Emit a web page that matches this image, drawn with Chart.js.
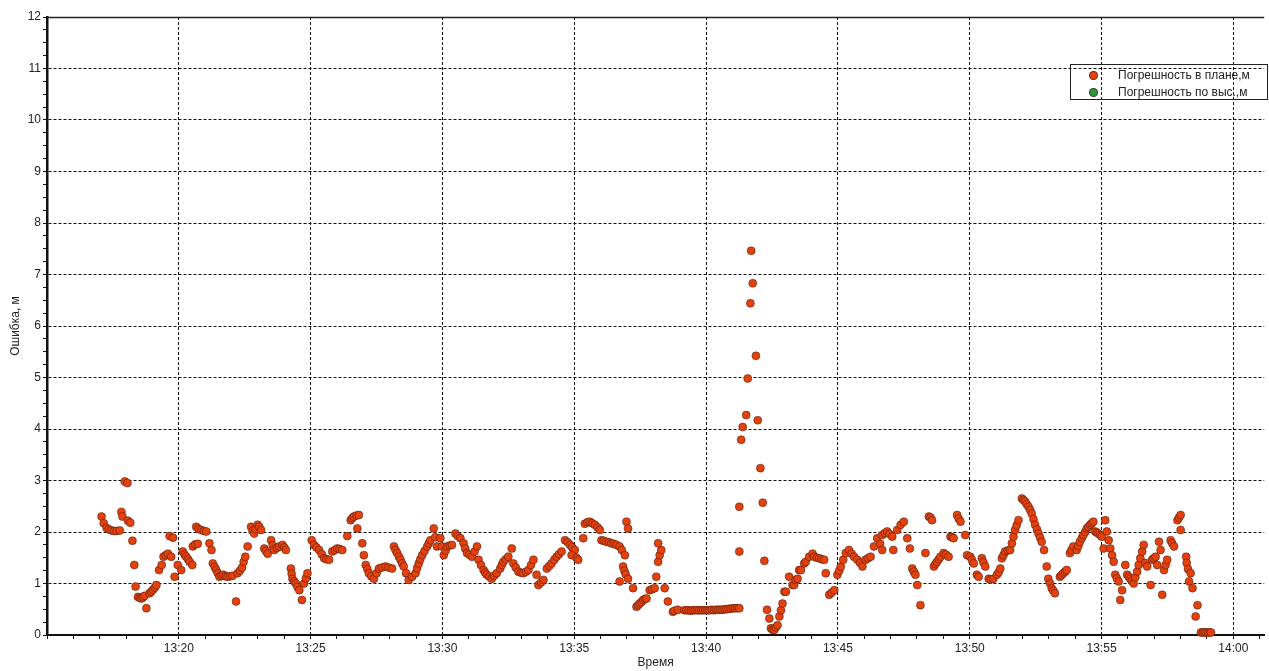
<!DOCTYPE html>
<html>
<head>
<meta charset="utf-8">
<script src="https://cdn.jsdelivr.net/npm/chart.js@4.4.1/dist/chart.umd.min.js"></script>
<style>
  html, body { margin: 0; padding: 0; background: #fff; }
  #wrap { position: relative; width: 1269px; height: 671px; }
  #legend {
    position: absolute; left: 1070px; top: 64px; width: 196px; height: 34px;
    border: 1px solid #222; font: 12px "Liberation Sans", Arial, sans-serif; color: #222;
  }
  #legend .row { position: absolute; left: 0; height: 16px; line-height: 16px; white-space: nowrap; }
  #legend .dot {
    position: absolute; left: 18px; top: 4px; width: 7px; height: 7px; border-radius: 50%;
    border: 1px solid rgba(60,20,10,0.7);
  }
  #legend .txt { position: absolute; left: 47px; top: 0; }
</style>
</head>
<body>
<div id="wrap">
  <canvas id="chart" width="1269" height="671"></canvas>
  <div id="legend"></div>
</div>
<script>
// time = minutes after 13:00, error in metres
const planTime = [
  17.07,17.15,17.26,17.35,17.45,17.55,17.64,17.76,17.82,17.86,17.95,18.05,18.07,18.16,18.24,18.31,18.36,18.45,18.52,18.58,
  18.64,18.70,18.77,18.89,18.95,19.02,19.09,19.15,19.25,19.35,19.42,19.50,19.59,19.71,19.65,19.78,19.84,19.96,20.09,20.15,
  20.22,20.28,20.35,20.41,20.51,20.53,20.62,20.72,20.66,20.75,20.85,20.95,21.04,21.16,21.24,21.29,21.36,21.42,21.48,21.54,
  21.62,21.69,21.77,21.85,21.95,22.04,22.17,22.23,22.32,22.40,22.46,22.52,22.61,22.74,22.80,22.86,22.92,22.99,23.05,23.12,
  23.24,23.30,23.37,23.50,23.56,23.62,23.72,23.81,23.93,24.00,24.06,24.25,24.28,24.31,24.38,24.44,24.50,24.57,24.67,24.75,
  24.82,24.88,25.04,25.13,
  25.22,25.32,25.42,25.51,25.60,25.70,25.82,25.92,26.01,26.10,26.20,26.39,26.52,26.58,26.64,26.74,26.83,26.77,26.96,27.02,
  27.09,27.15,27.21,27.30,27.40,27.50,27.59,27.70,27.84,27.96,28.09,28.16,28.22,28.28,28.35,28.41,28.47,28.53,28.62,28.72,
  28.85,28.98,29.04,29.10,29.16,29.23,29.32,29.42,29.48,29.54,29.67,29.73,29.79,29.92,29.98,30.05,30.12,30.18,30.28,30.36,
  30.49,30.58,30.68,30.80,30.86,30.93,31.02,31.12,31.22,31.31,31.37,31.46,31.56,31.62,31.68,31.78,31.87,31.96,32.06,32.19,
  32.25,32.31,32.40,32.50,32.63,32.69,32.78,32.88,32.98,33.07,33.17,33.26,33.36,33.45,33.57,33.64,33.74,33.83,33.96,34.05,
  34.14,34.24,34.33,34.42,34.52,34.65,34.75,34.84,34.92,35.02,34.90,35.08,35.15,
  35.34,35.40,35.50,35.59,35.68,35.78,35.88,35.97,36.03,36.12,36.22,36.32,36.41,36.50,36.60,36.72,36.80,36.92,36.98,37.04,
  36.85,36.90,36.95,37.04,36.72,37.23,37.36,37.42,37.48,37.55,37.61,37.68,37.74,37.86,37.95,38.05,38.11,38.18,38.24,38.30,
  38.18,38.43,38.55,38.74,38.80,38.93,
  39.18,39.26,39.34,39.42,39.50,39.58,39.66,39.74,39.82,39.90,39.98,40.06,40.14,40.22,40.30,40.38,40.46,40.54,40.62,40.70,
  40.78,40.86,40.94,41.02,41.10,41.18,41.26,
  41.26,41.26,41.33,41.39,41.52,41.58,41.68,41.77,41.71,41.89,41.96,42.06,42.15,42.21,42.31,42.40,42.46,42.52,42.59,42.65,
  42.71,42.78,42.84,42.90,42.97,43.03,43.15,43.28,43.34,43.40,43.47,43.53,43.60,43.72,43.78,43.91,44.04,44.10,44.20,44.29,
  44.38,44.48,44.54,44.67,44.76,44.86,44.98,45.05,45.11,45.20,45.30,45.42,45.52,45.61,45.74,45.84,45.93,46.05,46.14,46.24,
  46.37,46.49,46.60,46.68,46.68,46.78,46.87,46.96,47.06,47.10,47.25,47.38,47.50,47.63,47.73,47.82,47.88,47.94,48.01,48.13,
  48.32,48.45,48.51,48.57,48.64,48.70,48.76,48.83,48.89,49.01,49.10,49.20,49.27,49.33,49.39,49.52,49.58,49.65,49.83,49.90,
  50.02,50.08,50.15,50.27,50.34,50.46,50.52,50.59,50.72,50.80,50.90,51.03,51.10,51.16,51.22,51.28,51.34,51.44,51.53,51.60,
  51.66,51.72,51.78,51.85,51.98,52.04,52.10,52.16,52.23,52.29,52.35,52.42,52.48,52.55,52.61,52.67,52.73,52.82,52.92,52.98,
  53.05,53.11,53.17,53.23,53.42,53.48,53.55,53.62,53.68,53.80,53.86,53.93,54.06,54.12,54.18,54.25,54.31,54.38,54.44,54.50,
  54.57,54.63,54.69,54.76,54.82,54.88,54.95,55.01,55.08,55.14,55.20,55.27,55.33,55.40,55.46,55.52,55.58,55.65,55.71,55.78,
  55.90,55.97,56.03,56.09,56.15,56.22,56.28,56.35,56.41,56.47,56.54,56.60,56.66,56.73,56.86,56.92,56.98,57.05,57.11,57.18,
  57.24,57.30,57.37,57.43,57.49,57.62,57.68,57.75,57.88,57.94,58.00,58.00,58.21,58.23,58.28,58.32,58.38,58.45,58.57,58.64,
  58.77,58.84,58.90,58.96,59.04,59.10,59.15
];
const planError = [
  2.30,2.17,2.08,2.05,2.03,2.02,2.02,2.03,2.39,2.30,2.98,2.95,2.22,2.18,1.83,1.36,0.94,0.74,0.72,0.71,
  0.73,0.76,0.52,0.81,0.84,0.88,0.92,0.97,1.26,1.36,1.52,1.55,1.58,1.52,1.92,1.89,1.13,1.36,1.26,1.62,
  1.56,1.52,1.47,1.42,1.36,1.72,1.76,1.77,2.10,2.06,2.04,2.02,2.01,1.78,1.65,1.39,1.32,1.26,1.20,1.13,
  1.15,1.17,1.14,1.13,1.14,1.15,0.65,1.20,1.25,1.31,1.42,1.52,1.72,2.10,2.02,1.97,2.06,2.14,2.10,2.04,
  1.68,1.63,1.58,1.84,1.74,1.65,1.69,1.72,1.75,1.70,1.65,1.29,1.19,1.09,1.04,1.00,0.93,0.87,0.68,1.00,
  1.10,1.20,1.84,1.75,
  1.70,1.65,1.57,1.49,1.47,1.46,1.62,1.65,1.68,1.67,1.65,1.92,2.23,2.27,2.30,2.32,2.33,2.07,1.78,1.55,
  1.36,1.28,1.20,1.14,1.09,1.20,1.29,1.31,1.33,1.31,1.29,1.72,1.65,1.59,1.52,1.46,1.39,1.33,1.20,1.07,
  1.13,1.20,1.30,1.39,1.47,1.55,1.63,1.72,1.78,1.84,2.07,1.90,1.72,1.88,1.72,1.55,1.64,1.72,1.74,1.75,
  1.97,1.92,1.88,1.78,1.68,1.59,1.56,1.52,1.62,1.72,1.46,1.36,1.26,1.21,1.17,1.13,1.09,1.15,1.20,1.29,
  1.36,1.42,1.47,1.52,1.68,1.39,1.31,1.23,1.21,1.20,1.23,1.26,1.36,1.46,1.17,0.97,1.02,1.07,1.29,1.34,
  1.39,1.46,1.52,1.57,1.62,1.84,1.80,1.75,1.70,1.65,1.55,1.50,1.46,
  1.88,2.16,2.19,2.20,2.17,2.14,2.09,2.04,1.84,1.83,1.81,1.80,1.78,1.77,1.75,1.72,1.65,1.55,2.20,2.07,
  1.33,1.25,1.18,1.09,1.04,0.91,0.55,0.58,0.61,0.64,0.68,0.70,0.71,0.87,0.89,0.91,1.13,1.42,1.55,1.65,
  1.78,0.91,0.65,0.45,0.47,0.49,
  0.48,0.48,0.48,0.47,0.48,0.48,0.48,0.48,0.48,0.48,0.48,0.48,0.48,0.49,0.48,0.49,0.49,0.49,0.49,0.50,
  0.50,0.51,0.51,0.52,0.52,0.52,0.52,
  1.62,2.49,3.79,4.04,4.27,4.98,6.44,6.83,7.46,5.42,4.17,3.24,2.57,1.44,0.49,0.32,0.13,0.10,0.10,0.15,
  0.19,0.36,0.48,0.61,0.84,0.84,1.13,0.97,0.97,1.07,1.09,1.26,1.26,1.39,1.42,1.52,1.58,1.52,1.50,1.49,
  1.47,1.46,1.20,0.78,0.82,0.87,1.17,1.25,1.33,1.46,1.59,1.65,1.58,1.52,1.46,1.40,1.33,1.46,1.49,1.52,
  1.72,1.88,1.77,1.65,1.94,1.98,2.01,1.96,1.91,1.65,2.04,2.14,2.20,1.88,1.68,1.29,1.23,1.17,0.97,0.58,
  1.59,2.30,2.28,2.23,1.33,1.38,1.42,1.47,1.52,1.59,1.56,1.52,1.91,1.90,1.88,2.33,2.26,2.20,1.94,1.55,
  1.52,1.46,1.39,1.17,1.13,1.49,1.41,1.33,1.09,1.08,1.09,1.17,1.22,1.29,1.49,1.55,1.62,1.64,1.65,1.78,
  1.91,2.04,2.13,2.23,2.65,2.62,2.59,2.54,2.49,2.43,2.36,2.25,2.14,2.05,1.97,1.89,1.81,1.65,1.33,1.09,
  1.00,0.91,0.86,0.81,1.13,1.16,1.20,1.23,1.26,1.59,1.65,1.72,1.65,1.73,1.81,1.88,1.94,2.00,2.07,2.10,
  2.14,2.17,2.20,2.01,1.99,1.97,1.94,1.91,1.68,2.23,2.01,1.84,1.68,1.55,1.42,1.17,1.10,1.04,0.68,0.87,
  1.36,1.17,1.13,1.09,1.05,1.00,1.12,1.23,1.36,1.49,1.62,1.75,1.40,1.33,0.97,1.46,1.49,1.52,1.36,1.81,
  1.65,0.78,1.26,1.36,1.46,1.84,1.78,1.72,2.23,2.28,2.33,2.04,1.52,1.40,1.28,1.04,1.20,0.91,0.36,0.58,
  0.05,0.05,0.05,0.05,0.05,0.05,0.05
];
// second series: no visible points
const heightTime = [];
const heightError = [];

const seriesNames = ['Погрешность в плане,м', 'Погрешность по выс.,м'];
const seriesColors = ['#e3420f', '#2f9a3c'];

const xMajorTicks = [20, 25, 30, 35, 40, 45, 50, 55, 60];
const xTickLabels = ['13:20', '13:25', '13:30', '13:35', '13:40', '13:45', '13:50', '13:55', '14:00'];
const yTickLabels = ['0','1','2','3','4','5','6','7','8','9','10','11','12'];

const FONT = '"Liberation Sans", Arial, sans-serif';

const toPoints = (ts, vs) => ts.map((t, i) => ({ x: t, y: vs[i] }));

const topLine = {
  id: 'topLine',
  afterDraw(chart) {
    const { ctx, chartArea } = chart;
    ctx.save();
    ctx.strokeStyle = '#222';
    ctx.lineWidth = 1.5;
    ctx.beginPath();
    ctx.moveTo(chartArea.left, chartArea.top + 0.5);
    ctx.lineTo(chartArea.right, chartArea.top + 0.5);
    ctx.stroke();
    ctx.restore();
  }
};

new Chart(document.getElementById('chart'), {
  type: 'scatter',
  data: {
    datasets: [
      {
        label: seriesNames[0],
        data: toPoints(planTime, planError),
        backgroundColor: seriesColors[0],
        borderColor: 'rgba(60,20,10,0.6)',
        borderWidth: 0.8,
        pointRadius: 4,
        clip: false
      },
      {
        label: seriesNames[1],
        data: toPoints(heightTime, heightError),
        backgroundColor: seriesColors[1],
        borderColor: 'rgba(20,50,20,0.7)',
        borderWidth: 0.8,
        pointRadius: 4
      }
    ]
  },
  options: {
    responsive: false,
    animation: false,
    devicePixelRatio: 1,
    layout: { padding: { top: 17, right: 0, left: 0, bottom: 0 } },
    plugins: { legend: { display: false }, tooltip: { enabled: false } },
    scales: {
      x: {
        type: 'linear',
        min: 15,
        max: 61.17,
        afterBuildTicks: (scale) => {
          const t = [];
          for (let m = 15; m <= 61; m++) t.push({ value: m });
          scale.ticks = t;
        },
        afterFit: (scale) => { scale.height = 36; },
        ticks: {
          autoSkip: false,
          maxRotation: 0,
          padding: 2,
          color: '#222',
          font: { family: FONT, size: 12 },
          callback: (v) => {
            const i = xMajorTicks.indexOf(v);
            return i >= 0 ? xTickLabels[i] : '';
          }
        },
        grid: {
          color: (c) => (c.tick && xMajorTicks.includes(c.tick.value)) ? '#111' : 'rgba(0,0,0,0)',
          tickColor: '#111',
          tickLength: 4,
          lineWidth: 1
        },
        border: { display: true, color: '#111', width: 2, dash: [3, 2] },
        title: {
          display: true,
          text: 'Время',
          color: '#222',
          font: { family: FONT, size: 12 },
          padding: { top: 0, bottom: 1 }
        }
      },
      y: {
        min: 0,
        max: 12,
        afterBuildTicks: (scale) => {
          const t = [];
          for (let k = 0; k <= 48; k++) t.push({ value: k / 4 });
          scale.ticks = t;
        },
        afterFit: (scale) => { scale.width = 47; },
        ticks: {
          autoSkip: false,
          padding: 2,
          color: '#222',
          font: { family: FONT, size: 12 },
          callback: (v) => Number.isInteger(v) ? yTickLabels[v] : ''
        },
        grid: {
          color: (c) => (c.tick && Number.isInteger(c.tick.value) && c.tick.value > 0 && c.tick.value < 12) ? '#111' : 'rgba(0,0,0,0)',
          tickColor: '#111',
          tickLength: 4,
          lineWidth: 1
        },
        border: { display: true, color: '#111', width: 2.5, dash: [3, 2] },
        title: {
          display: true,
          text: 'Ошибка, м',
          color: '#222',
          font: { family: FONT, size: 12 },
          padding: { top: 8, bottom: 0 }
        }
      }
    }
  },
  plugins: [topLine]
});

// legend drawn as html over the plot (transparent, like the original)
const legend = document.getElementById('legend');
legend.innerHTML = seriesNames.map((name, i) =>
  `<div class="row" style="top:${2 + i * 17}px">` +
  `<span class="dot" style="background:${seriesColors[i]}"></span>` +
  `<span class="txt">${name}</span></div>`
).join('');
</script>
</body>
</html>
